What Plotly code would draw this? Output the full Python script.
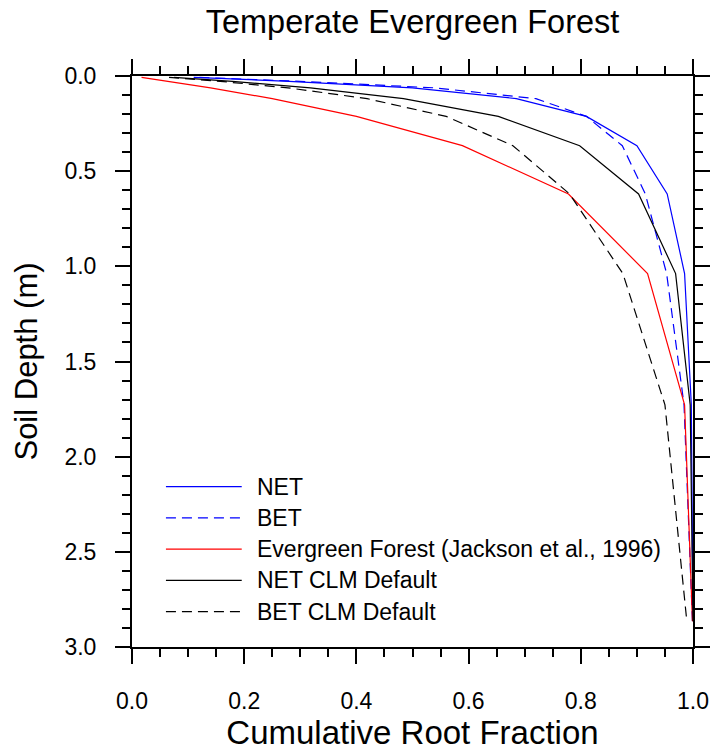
import plotly.graph_objects as go

# Soil node depths (m)
depth = [0.0071, 0.0279, 0.0623, 0.1189, 0.2122, 0.3661, 0.6198, 1.0380, 1.7276, 2.8646]

# Cumulative root fraction
net = [0.11, 0.28, 0.50, 0.685, 0.81, 0.90, 0.954, 0.985, 0.997, 1.0]
bet = [0.12, 0.30, 0.54, 0.72, 0.81, 0.874, 0.915, 0.953, 0.984, 0.999]
jackson = [0.017, 0.065, 0.14, 0.25, 0.40, 0.589, 0.778, 0.919, 0.985, 0.999]
net_clm = [0.075, 0.179, 0.318, 0.484, 0.653, 0.798, 0.903, 0.969, 0.995, 1.0]
bet_clm = [0.066, 0.157, 0.278, 0.419, 0.560, 0.679, 0.780, 0.875, 0.950, 0.989]

names = ["NET", "BET", "Evergreen Forest (Jackson et al., 1996)", "NET CLM Default", "BET CLM Default"]
series = [net, bet, jackson, net_clm, bet_clm]
colors = ["#0000ff", "#0000ff", "#ff0000", "#000000", "#000000"]
dashes = ["solid", "10px,6px", "solid", "solid", "10px,6px"]

x_ticks = [0.0, 0.2, 0.4, 0.6, 0.8, 1.0]
y_ticks = [0.0, 0.5, 1.0, 1.5, 2.0, 2.5, 3.0]

FONT = "Liberation Sans, Arial, Helvetica, sans-serif"

fig = go.Figure()
for name, vals, col, dsh in zip(names, series, colors, dashes):
    fig.add_trace(go.Scatter(
        x=vals, y=depth, mode="lines", name=name,
        line=dict(color=col, width=1.2, dash=dsh),
        showlegend=False,
    ))

# manual legend (paper coordinates)
leg_y0 = 0.281
leg_step = 0.0548
for i, (name, col, dsh) in enumerate(zip(names, colors, dashes)):
    yy = leg_y0 - i * leg_step
    fig.add_shape(type="line", xref="paper", yref="paper",
                  x0=0.0605, x1=0.1956, y0=yy, y1=yy,
                  line=dict(color=col, width=1.2, dash=dsh))
    fig.add_annotation(xref="paper", yref="paper", x=0.2193, y=yy,
                       text=name, showarrow=False, xanchor="left", yanchor="middle",
                       font=dict(size=23, color="black", family=FONT))

axis_common = dict(
    showline=True, linewidth=2, linecolor="black", mirror="ticks",
    ticks="outside", ticklen=15, tickwidth=2, tickcolor="black",
    showgrid=False, zeroline=False,
    tickfont=dict(size=23, color="black", family=FONT),
)

fig.update_layout(
    width=722, height=751,
    margin=dict(l=132, r=20, t=76, b=104),
    paper_bgcolor="white", plot_bgcolor="white",
    font=dict(family=FONT, color="black"),
    title=dict(text="Temperate Evergreen Forest", x=0.5, xref="paper",
               y=1 - 22 / 751, yref="container", yanchor="middle", xanchor="center",
               font=dict(size=32.5, color="black", family=FONT)),
    xaxis=dict(range=[0, 1], tickvals=x_ticks, ticktext=[f"{v:.1f}" for v in x_ticks],
               ticklabelstandoff=17,
               minor=dict(dtick=0.05, ticks="outside", ticklen=8, tickwidth=1.5, tickcolor="black"),
               title=dict(text="Cumulative Root Fraction", standoff=2,
                          font=dict(size=33, color="black", family=FONT)),
               **axis_common),
    yaxis=dict(range=[3, 0], tickvals=y_ticks, ticktext=[f"{v:.1f}" for v in y_ticks],
               ticklabelstandoff=14,
               minor=dict(dtick=0.1, ticks="outside", ticklen=8, tickwidth=1.5, tickcolor="black"),
               title=dict(text="Soil Depth (m)", standoff=18,
                          font=dict(size=31, color="black", family=FONT)),
               **axis_common),
)

fig.write_html("out.html")
